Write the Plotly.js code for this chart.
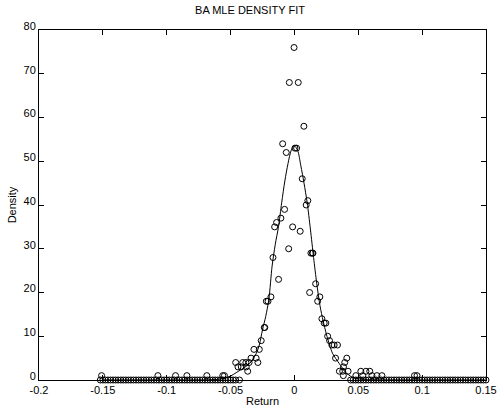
<!DOCTYPE html>
<html>
<head>
<meta charset="utf-8">
<script src="https://cdn.plot.ly/plotly-3.0.1.min.js"></script>
<style>html,body{margin:0;padding:0;background:#fff;}#chart{width:500px;height:409px;}</style>
</head>
<body>
<div id="chart"></div>
<script>
// Empirical density points (non-zero bins)
var empX = [-0.0003, -0.004, 0.003, 0.0074, -0.0092, -0.0064, 0.0004, 0.0017, 0.0061, 0.0105,
  0.0092, -0.0077, -0.0106, -0.014, -0.0155, -0.0014, 0.0045, -0.0045, 0.0129, 0.0141,
  0.0145, -0.0168, -0.0124, 0.0166, 0.0119, -0.0184, 0.0199, -0.0207, -0.022, 0.0182,
  -0.0236, -0.0232, -0.026, -0.0317, -0.0275, -0.046, -0.0405, -0.038, -0.0355, -0.0286,
  -0.0442, -0.0416, -0.0377, -0.034, -0.030, -0.0366, 0.0215, 0.0233, 0.0246, 0.026,
  0.0275, 0.0293, 0.0311, 0.0337, 0.0322, 0.041, 0.0394, 0.0384, 0.0352, 0.0378,
  0.042, 0.0383, 0.052, 0.056, 0.059, 0.0481, 0.0535, 0.0607, 0.0646, 0.0685,
  0.094, 0.096, -0.151, -0.1069, -0.0931, -0.0842, -0.0686, -0.0561, -0.0548];
var empY = [76, 68, 68, 58, 54, 52, 53, 53, 46, 41,
  40, 39, 37, 36, 35, 35, 34, 30, 29, 29,
  29, 28, 23, 22, 20, 19, 19, 18, 18, 18,
  12, 12, 9, 7, 7, 4, 4, 4, 4, 4,
  3, 3, 3, 5, 5, 2, 14, 13, 13, 10,
  9, 8, 8, 8, 5, 5, 4, 3, 2, 2,
  2, 1, 2, 2, 2, 1, 1, 1, 1, 1,
  1, 1, 1, 1, 1, 1, 1, 1, 1];
// Empirical density points at zero
var zeroX = [-0.152, -0.150, -0.148, -0.146, -0.144, -0.142, -0.140, -0.138, -0.136, -0.134,
  -0.132, -0.130, -0.128, -0.126, -0.124, -0.122, -0.120, -0.118, -0.116, -0.114,
  -0.112, -0.110, -0.108, -0.106, -0.104, -0.102, -0.100, -0.098, -0.096, -0.094,
  -0.092, -0.090, -0.088, -0.086, -0.084, -0.082, -0.080, -0.078, -0.076, -0.074,
  -0.072, -0.070, -0.068, -0.066, -0.064, -0.062, -0.060, -0.058, -0.056, -0.054,
  -0.052, -0.050, -0.048, -0.046, -0.043,
  0.044, 0.046, 0.048, 0.050, 0.052, 0.054, 0.056, 0.058, 0.060, 0.062,
  0.064, 0.066, 0.068, 0.070, 0.072, 0.074, 0.076, 0.078, 0.080, 0.082,
  0.084, 0.086, 0.088, 0.090, 0.092, 0.094, 0.096, 0.098, 0.100, 0.102,
  0.104, 0.106, 0.108, 0.110, 0.112, 0.114, 0.116, 0.118, 0.120, 0.122,
  0.124, 0.126, 0.128, 0.130, 0.132, 0.134, 0.136, 0.138, 0.140, 0.142,
  0.144, 0.146, 0.148, 0.150];
var zeroY = zeroX.map(function(){ return 0; });
// Fitted BA MLE density curve
var fitX = [-0.15, -0.1, -0.07, -0.06, -0.055, -0.05, -0.045, -0.04, -0.035, -0.03,
  -0.0275, -0.025, -0.0225, -0.02, -0.0175, -0.015, -0.0125, -0.01, -0.0075, -0.005,
  -0.0025, 0, 0.0025, 0.005, 0.0075, 0.01, 0.0125, 0.015, 0.0175, 0.02,
  0.0225, 0.025, 0.0275, 0.03, 0.035, 0.04, 0.045, 0.05, 0.055, 0.06,
  0.07, 0.1, 0.15];
var fitY = [0, 0, 0.02, 0.15, 0.4, 0.9, 1.8, 2.7, 3.8, 6.0,
  8.0, 11.5, 14.5, 18.5, 26, 31, 35, 40.5, 45.5, 49.5,
  52.5, 53.5, 52.5, 49, 45, 40.5, 34.5, 28, 22, 17,
  13.5, 10.5, 8, 6, 3.8, 1.8, 0.7, 0.3, 0.1, 0.05,
  0.01, 0, 0];
var xTickVals = [-0.2, -0.15, -0.1, -0.05, 0, 0.05, 0.1, 0.15];
var xTickText = ['-0.2', '-0.15', '-0.1', '-0.05', '0', '0.05', '0.1', '0.15'];
var yTickVals = [0, 10, 20, 30, 40, 50, 60, 70, 80];

var markerStyle = {symbol: 'circle-open', size: 6, color: '#000', line: {color: '#000', width: 1}};
var traces = [
  {x: zeroX, y: zeroY, type: 'scatter', mode: 'markers', marker: markerStyle, cliponaxis: false, hoverinfo: 'skip'},
  {x: empX, y: empY, type: 'scatter', mode: 'markers', marker: markerStyle, cliponaxis: false},
  {x: fitX, y: fitY, type: 'scatter', mode: 'lines', line: {color: '#000', width: 1, shape: 'spline', smoothing: 0.8}}
];
var axisCommon = {
  showline: true, linecolor: '#000', linewidth: 1, mirror: 'ticks', ticks: 'inside', ticklen: 5,
  tickcolor: '#000', showgrid: false, zeroline: false, automargin: false,
  tickfont: {family: 'Liberation Sans, Arial, sans-serif', size: 11, color: '#000'}
};
var layout = {
  width: 500, height: 409,
  margin: {l: 39, r: 14, t: 30, b: 29, pad: 0},
  paper_bgcolor: '#fff', plot_bgcolor: '#fff',
  showlegend: false,
  font: {family: 'Liberation Sans, Arial, sans-serif', size: 11, color: '#000'},
  title: {text: 'BA MLE DENSITY FIT', x: 0.5, xanchor: 'center', y: 0.975, yanchor: 'middle', font: {size: 11, color: '#000'}},
  xaxis: Object.assign({}, axisCommon, {range: [-0.2, 0.15], tickmode: 'array', tickvals: xTickVals, ticktext: xTickText,
    title: {text: 'Return', standoff: 2, font: {size: 11, color: '#000'}}}),
  yaxis: Object.assign({}, axisCommon, {range: [0, 80], tickmode: 'array', tickvals: yTickVals, ticklabelshift: -4,
    title: {text: 'Density', standoff: 4, font: {size: 11, color: '#000'}}})
};
Plotly.newPlot('chart', traces, layout, {staticPlot: true, displayModeBar: false});
</script>
</body>
</html>
